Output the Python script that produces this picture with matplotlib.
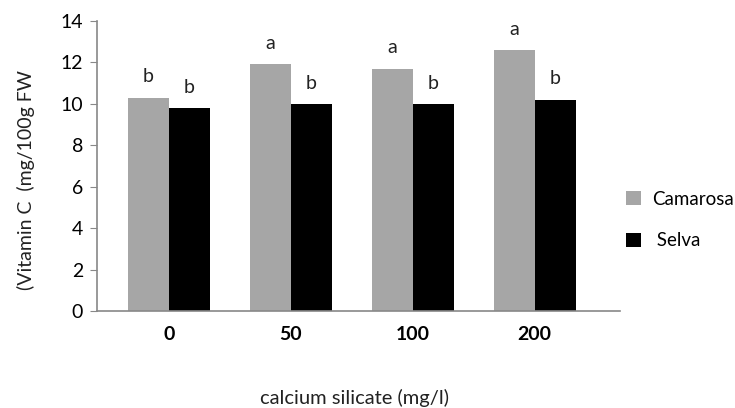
import matplotlib
matplotlib.use("Agg")
import matplotlib.pyplot as plt
import numpy as np

categories = ["0", "50", "100", "200"]
camarosa = [10.3, 11.9, 11.7, 12.6]
selva = [9.8, 10.0, 10.0, 10.2]
camarosa_letters = ["b", "a", "a", "a"]
selva_letters = ["b", "b", "b", "b"]
yticks = [0, 2, 4, 6, 8, 10, 12, 14]

plt.rcParams['font.family'] = ['Lato', 'DejaVu Sans']

fig = plt.figure(figsize=(7.35, 4.08), dpi=100)
ax = fig.add_axes([97/735, 1-311/408, (620-97)/735, (311-21)/408])

x = np.arange(len(categories))
w = 0.335
b1 = ax.bar(x - w/2, camarosa, w, color="#a6a6a6", label="Camarosa")
b2 = ax.bar(x + w/2, selva, w, color="#000000", label=" Selva")

for xi, v, t in zip(x - w/2, camarosa, camarosa_letters):
    ax.annotate(t, (xi, v), xytext=(0, 11), textcoords="offset points",
                ha="center", va="baseline", fontsize=14, color="#222222")
for xi, v, t in zip(x + w/2, selva, selva_letters):
    ax.annotate(t, (xi, v), xytext=(0, 11), textcoords="offset points",
                ha="center", va="baseline", fontsize=14, color="#222222")

ax.set_xlim(-0.59, 3.70)
ax.set_ylim(0, 14)
ax.set_yticks(yticks)
ax.set_xticks(x)
ax.set_xticklabels(categories, fontweight="bold", fontsize=14)
ax.tick_params(axis="y", labelsize=14, length=5, color="#888888", pad=5)
ax.tick_params(axis="x", length=0, pad=11)
for s in ["top", "right"]:
    ax.spines[s].set_visible(False)
for s in ["left", "bottom"]:
    ax.spines[s].set_color("#888888")
    ax.spines[s].set_linewidth(1.2)

fig.text(26/735, 1-180/408, "(Vitamin C  (mg/100g FW", rotation=90,
         ha="center", va="center", fontsize=14, color="#222222")
fig.text(354/735, 1-398/408, "calcium silicate (mg/l)", ha="center",
         va="center", fontsize=14.5, color="#222222")

leg = fig.legend(handles=[b1, b2], labels=["Camarosa", " Selva"],
                 loc="center left", bbox_to_anchor=(609/735, 1-220/408),
                 frameon=False, fontsize=13.5, handlelength=0.8, handleheight=0.8,
                 labelspacing=1.3, handletextpad=0.6)

fig.savefig("out.png", dpi=100)
